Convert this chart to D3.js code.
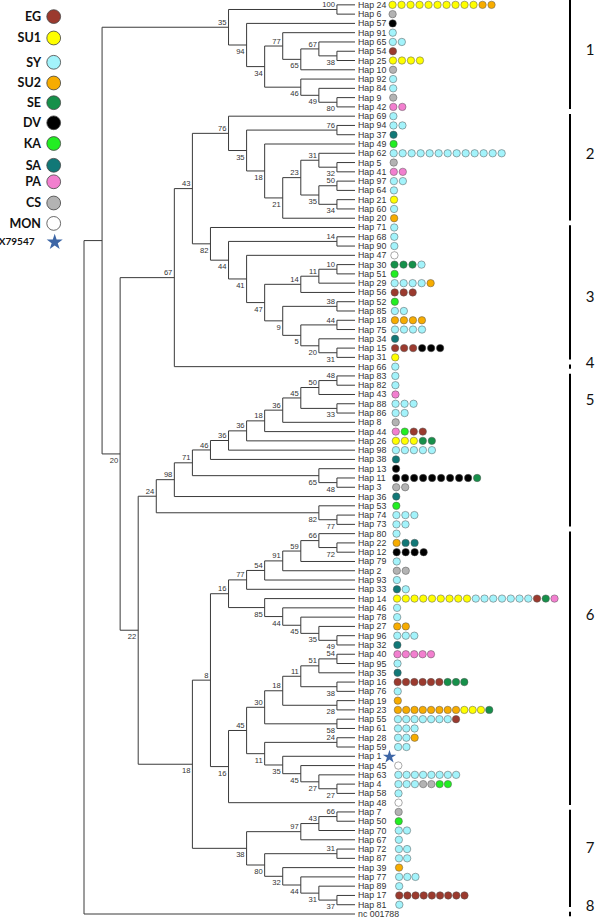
<!DOCTYPE html>
<html><head><meta charset="utf-8">
<script src="https://cdn.jsdelivr.net/npm/d3@7"></script>
<style>body{margin:0;background:#fff}svg{display:block}</style>
</head><body><svg id="c" width="600" height="918"></svg>
<script>
// ---------------- DATA ----------------
// Tree topology (Newick), internal labels = bootstrap support
const clade1 = "((Hap 24,Hap 6)100,(Hap 57,((Hap 91,((Hap 65,(Hap 54,Hap 25)38)67,Hap 10)65)77,(Hap 92,(Hap 84,(Hap 9,Hap 42)80)49)46)34)94)35";
const clade2 = "(Hap 69,((Hap 94,Hap 37)76,(Hap 49,(((Hap 62,(Hap 5,Hap 41)32)31,((Hap 97,Hap 64)50,(Hap 21,Hap 60)34)35)23,Hap 20)21)18)35)76";
const clade3 = "(Hap 71,((Hap 68,Hap 90)14,(Hap 47,((((Hap 30,Hap 51)10,Hap 29)11,Hap 56)14,((Hap 52,Hap 85)38,((Hap 18,Hap 75)44,(Hap 34,(Hap 15,Hap 31)31)20)5)9)47)41)44)82";
const clade5 = "(((((((((((Hap 83,Hap 82)48,Hap 43)50,(Hap 88,Hap 86)33)45,Hap 8)36,Hap 44)18,Hap 26)36,Hap 98)36,Hap 38)46,(Hap 13,(Hap 11,Hap 3)48)65)71,Hap 36)98,(Hap 53,(Hap 74,Hap 73)77)82)24";
const clade6a = "((((((Hap 80,(Hap 22,Hap 12)72)66,Hap 79)59,Hap 2)91,Hap 93)54,Hap 33)77,(Hap 14,(Hap 46,(Hap 78,(Hap 27,(Hap 96,Hap 32)49)35)45)44)85)16";
const clade6b = "(((((((Hap 40,Hap 95)54,Hap 35)51,(Hap 16,Hap 76)38)11,(Hap 19,Hap 23)28)18,(Hap 55,Hap 61)58)30,((Hap 28,Hap 59)24,(Hap 1,(Hap 45,(Hap 63,(Hap 4,Hap 58)27)27)45)35)11)45,Hap 48)16";
const clade7 = "((((Hap 7,Hap 50)66,Hap 70)43,Hap 67)97,((Hap 72,Hap 87)31,(Hap 39,(Hap 77,(Hap 89,(Hap 17,Hap 81)37)31)44)32)80)38";
const newick = `((${clade1},(((${clade2},${clade3})43,Hap 66)67,(${clade5},((${clade6a},${clade6b})8,${clade7})18)22)20),nc 001788);`;

// Regions (legend)
const regionCodes = ["EG","SU1","SY","SU2","SE","DV","KA","SA","PA","CS","MON","X79547"];

// Haplotype composition (region*count)
const hapIds = ["Hap 24","Hap 6","Hap 57","Hap 91","Hap 65","Hap 54","Hap 25","Hap 10","Hap 92","Hap 84","Hap 9","Hap 42",
 "Hap 69","Hap 94","Hap 37","Hap 49","Hap 62","Hap 5","Hap 41","Hap 97","Hap 64","Hap 21","Hap 60","Hap 20",
 "Hap 71","Hap 68","Hap 90","Hap 47","Hap 30","Hap 51","Hap 29","Hap 56","Hap 52","Hap 85","Hap 18","Hap 75","Hap 34","Hap 15","Hap 31",
 "Hap 66","Hap 83","Hap 82","Hap 43","Hap 88","Hap 86","Hap 8","Hap 44","Hap 26","Hap 98","Hap 38","Hap 13","Hap 11","Hap 3","Hap 36","Hap 53","Hap 74","Hap 73",
 "Hap 80","Hap 22","Hap 12","Hap 79","Hap 2","Hap 93","Hap 33","Hap 14","Hap 46","Hap 78","Hap 27","Hap 96","Hap 32","Hap 40","Hap 95","Hap 35","Hap 16","Hap 76","Hap 19","Hap 23","Hap 55","Hap 61","Hap 28","Hap 59","Hap 1","Hap 45","Hap 63","Hap 4","Hap 58","Hap 48",
 "Hap 7","Hap 50","Hap 70","Hap 67","Hap 72","Hap 87","Hap 39","Hap 77","Hap 89","Hap 17","Hap 81"];
const hapRegions = ["SU1*10 SU2*2","CS","DV","SY","SY*2","EG","SU1*4","CS","SY","SY","CS","PA*2",
 "SY","SY*2","SA","KA","SY*13","CS","PA*2","SY*2","SY","SU1","SY","SU2",
 "SY","SY","SY","MON","SE*3 SY","KA","SY*4 SU2","EG*3","KA","SY*2","SU2*4","SY*4","SA","EG*3 DV*3","SU1",
 "SY","SY","SY","PA","SY*3","SY*2","CS","PA KA EG*2","SU1*3 SE*2","SY*5","SA","DV","DV*9 SE","CS*2","SA","KA","SY*3","SY*2",
 "SY","SU2 SA*2","DV*4","SY","CS*2","SY","SA SY","SU1*9 SY*7 EG SE PA","SY","SY","SU2*2","SY*3","SA","PA*5","SY","SA","EG*6 SE*3","SY","SU2","SU2*8 SU1*3 SE","SY*7 EG","SY*3","SY*2 SU2","SY*2","X79547","MON","SY*8","SY*3 CS*2 KA*2","SY","MON",
 "CS","KA","SY*2","SY","SY*2","SY*2","SU2","SY*3","SY","EG*9","SY"];

// Clade groups on the right
const cladeLabels = ["1","2","3","4","5","6","7","8"];
const cladeFirst = ["Hap 24","Hap 69","Hap 71","Hap 66","Hap 83","Hap 80","Hap 7","nc 001788"];
const cladeLast  = ["Hap 42","Hap 20","Hap 31","Hap 66","Hap 73","Hap 48","Hap 81","nc 001788"];

// ---------------- STYLE / LAYOUT ----------------
const regionColor = {EG:"#9b3a2e",SU1:"#ffff00",SY:"#a3f3fb",SU2:"#f7ac00",SE:"#16904a",DV:"#000000",
  KA:"#22ee22",SA:"#117877",PA:"#f27fcf",CS:"#b3b3b3",MON:"#ffffff",X79547:"#3d66a6"};
const legendY = [16.6,38,62.3,83,102.7,122.8,143.5,165.3,181.8,203,223.4,241.7];
const cladeLabelY = [50,154,297,363,400,615,848,906];

function parseNewick(s){
  let i=0;
  function node(){
    const n={};
    if(s[i]==='('){
      i++; n.children=[node()];
      while(s[i]===','){i++; n.children.push(node());}
      i++;
    }
    const st=i;
    while(i<s.length && !",();".includes(s[i])) i++;
    n.name=s.slice(st,i).trim();
    return n;
  }
  return node();
}

const svg = d3.select("#c");
const root = d3.hierarchy(parseNewick(newick));
d3.cluster().nodeSize([1,1]).separation(()=>1)(root);
const leaves = root.leaves();
const maxDepth = d3.max(root.descendants(), d=>d.y);
const x = d3.scaleLinear().domain([0,maxDepth]).range([84,355]);
const y = d3.scaleLinear().domain([leaves[0].x, leaves[leaves.length-1].x]).range([4.85,914]);

// branches
const gl = svg.append("g").attr("fill","none").attr("stroke","#3a3a3a").attr("stroke-width",1);
root.descendants().forEach(n=>{
  if(n.parent) gl.append("path").attr("d",`M${x(n.parent.y)},${y(n.x)}H${x(n.y)}`);
  if(n.children) gl.append("path").attr("d",`M${x(n.y)},${y(n.children[0].x)}V${y(n.children[n.children.length-1].x)}`);
});

// bootstrap labels
const gb = svg.append("g").attr("font-family","Liberation Sans, Arial, sans-serif").attr("font-size",7.6).attr("fill","#333").attr("text-anchor","end");
root.descendants().filter(n=>n.children && n.data.name).forEach(n=>{
  const first = n.parent && n.parent.children[0]===n;
  gb.append("text").attr("x",x(n.y)-2).attr("y",y(n.x)+(first?-2.4:9)).text(n.data.name);
});

// leaf labels + haplotype circles
const comp = new Map(hapIds.map((h,i)=>[h, hapRegions[i].split(" ").flatMap(t=>{const [c,k]=t.split("*"); return d3.range(+(k||1)).map(()=>c);})]));
const startX = d3.scaleLinear().domain([0,900]).range([392.5,399.3]);
const stepX = d3.scaleLinear().domain([560,660,900]).range([9.0,8.35,8.15]).clamp(true);
const gt = svg.append("g").attr("font-family","Liberation Sans, Arial, sans-serif").attr("font-size",8.8).attr("fill","#333");
const gc = svg.append("g");
leaves.forEach(l=>{
  const ly = y(l.x);
  const t = gt.append("text").attr("x",x(l.y)+3).attr("y",ly+3).text(l.data.name);
  const list = comp.get(l.data.name)||[];
  list.forEach((c,i)=>{
    if(c==="X79547"){
      const tx = x(l.y)+3+t.node().getComputedTextLength()+8;
      gc.append("path").attr("d",d3.symbol(d3.symbolStar,55)()).attr("transform",`translate(${tx},${ly+0.5})`).attr("fill",regionColor[c]);
    } else {
      gc.append("circle").attr("cx",startX(ly)+i*stepX(ly)).attr("cy",ly).attr("r",3.7)
        .attr("fill",regionColor[c]).attr("stroke","#555").attr("stroke-width",0.5);
    }
  });
});

// legend
const gleg = svg.append("g");
regionCodes.forEach((c,i)=>{
  const ty = legendY[i];
  gleg.append("text").attr("x",c==="X79547"?34.5:41).attr("y",ty+ (c==="X79547"?3.6:4.3)).attr("text-anchor","end")
    .attr("font-family","Lato, sans-serif").attr("font-weight","bold").attr("font-size",c==="X79547"?10:12.5).attr("fill","#111").text(c);
  if(c==="X79547"){
    gleg.append("path").attr("d",d3.symbol(d3.symbolStar,80)()).attr("transform",`translate(54.7,${ty+0.5})`).attr("fill",regionColor[c]);
  } else {
    gleg.append("circle").attr("cx",53.7).attr("cy",ty).attr("r",6.9).attr("fill",regionColor[c]).attr("stroke","#444").attr("stroke-width",0.8);
  }
});

// clade bars
const leafY = new Map(leaves.map(l=>[l.data.name, y(l.x)]));
const gbar = svg.append("g");
cladeLabels.forEach((c,i)=>{
  const y0 = i===0 ? 0 : leafY.get(cladeFirst[i])-2.2, y1 = Math.min(918, leafY.get(cladeLast[i])+2.2);
  gbar.append("line").attr("x1",570).attr("x2",570).attr("y1",y0).attr("y2",y1).attr("stroke","#000").attr("stroke-width",2);
  gbar.append("text").attr("x",590).attr("y",cladeLabelY[i]+5).attr("text-anchor","middle")
    .attr("font-family","Lato, sans-serif").attr("font-size",15).attr("fill","#111").text(c);
});
</script></body></html>
